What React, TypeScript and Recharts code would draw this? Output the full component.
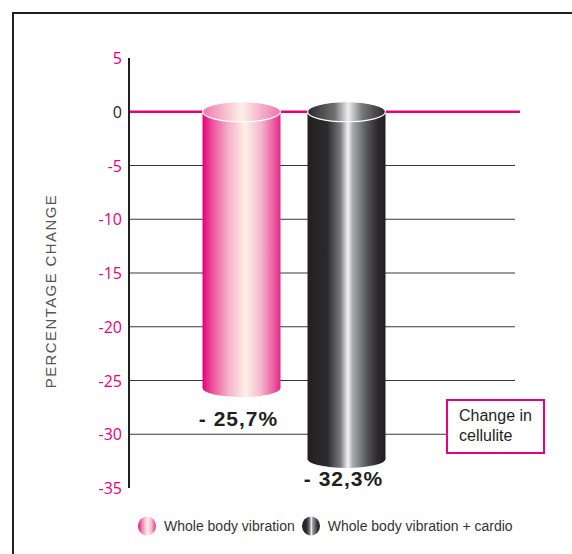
import React from 'react';
import { BarChart, Bar, XAxis, YAxis, CartesianGrid, Legend } from 'recharts';

// values
const categories = ['Whole body vibration', 'Whole body vibration + cardio'];
const changeValues = [-25.7, -32.3];
const yTicks = [5, 0, -5, -10, -15, -20, -25, -30, -35];
const axisTitle = 'PERCENTAGE CHANGE';
const boxLines = ['Change in', 'cellulite'];

const data = categories.map((name, i) => ({ name, value: changeValues[i] }));

const PINK = '#e6007e';
const INK = '#231f20';
const W = 572;
const H = 554;
const PLOT_BOTTOM = 488;
const LEGEND_H = 20;
// the legend's height is taken off the plot too, so leave it out of the bottom margin
const MARGIN = { top: 58, right: 57, bottom: H - PLOT_BOTTOM - LEGEND_H, left: 0 };

type Stop = [number, string];
const gradients: Record<string, Stop[]> = {
  pinkBody: [[0, '#e4007c'], [0.12, '#ec4f98'], [0.33, '#f5b0ca'], [0.55, '#fdf1e6'], [0.75, '#f6b6ce'], [0.92, '#ea5a9e'], [1, '#e2268a']],
  pinkTop: [[0, '#ef78ad'], [0.5, '#fdf0e8'], [1, '#ee74ab']],
  darkBody: [[0, '#231f20'], [0.25, '#2b2a2b'], [0.42, '#77787c'], [0.52, '#f5f5f5'], [0.58, '#a7a9ad'], [0.76, '#56575a'], [0.9, '#2b292a'], [1, '#231f20']],
  darkTop: [[0, '#2a2829'], [0.35, '#6f7074'], [0.52, '#eeeeee'], [0.7, '#77787b'], [1, '#2a2829']],
};
const seriesKeys = ['pink', 'dark'];

const formatChange = (v: number) => `- ${Math.abs(v).toFixed(1).replace('.', ',')}%`;

const Cylinder = (props: any) => {
  const { x, y, width, height, index, payload } = props;
  const top = Math.min(y, y + height);
  const bottom = Math.max(y, y + height);
  const rx = width / 2;
  const ry = 10;
  const cx = x + rx;
  const key = seriesKeys[index];
  // keep the value label above the x axis line
  const labelY = Math.min(bottom + 30, PLOT_BOTTOM - 10);
  return (
    <g>
      <rect x={x} y={top} width={width} height={bottom - top} fill={`url(#${key}Body)`} />
      <ellipse cx={cx} cy={bottom} rx={rx} ry={ry - 1} fill={`url(#${key}Body)`} />
      <ellipse cx={cx} cy={top} rx={rx} ry={ry} fill={`url(#${key}Top)`} stroke="#fff" strokeWidth={1.2} />
      <text
        x={cx - 3}
        y={labelY}
        textAnchor="middle"
        dominantBaseline="central"
        fill={INK}
        fontSize={21}
        fontWeight="bold"
        letterSpacing={1}
        fontFamily="'Liberation Sans', Arial, sans-serif"
      >
        {formatChange(payload.value)}
      </text>
    </g>
  );
};

const YTick = (props: any) => {
  const { x, y, payload } = props;
  return (
    <text
      x={x}
      y={y}
      textAnchor="end"
      dominantBaseline="central"
      fill={payload.value === 0 ? INK : PINK}
      fontSize={16}
      fontFamily="'Open Sans', sans-serif"
    >
      {payload.value}
    </text>
  );
};

const gridLine = (p: any) => {
  const v = yTicks[p.index];
  if (v === undefined || v === yTicks[0] || v === yTicks[yTicks.length - 1]) return <g key={p.key} />;
  if (v === 0) {
    return <line key={p.key} x1={p.x1} y1={p.y1} x2={p.x2 + 5} y2={p.y2} stroke={PINK} strokeWidth={2.5} />;
  }
  return <line key={p.key} x1={p.x1} y1={p.y1} x2={p.x2} y2={p.y2} stroke="#3a3738" strokeWidth={1.2} />;
};

const LegendIcon = ({ k }: { k: string }) => (
  <svg width={20} height={20} style={{ display: 'block' }}>
    <ellipse cx={10} cy={10} rx={9} ry={9.5} fill={`url(#${k}Body)`} />
  </svg>
);

const renderLegend = () => (
  <div
    style={{
      display: 'flex',
      alignItems: 'center',
      paddingLeft: 137,
      height: LEGEND_H,
      fontFamily: "'Liberation Sans', Arial, sans-serif",
      fontSize: 14,
      color: '#333',
    }}
  >
    {categories.map((c, i) => (
      <React.Fragment key={c}>
        <LegendIcon k={seriesKeys[i]} />
        <span style={{ marginLeft: 7, marginRight: 6 }}>{c}</span>
      </React.Fragment>
    ))}
  </div>
);

const AxisTitle = () => (
  <text
    x={50}
    y={291}
    transform="rotate(-90 50 291)"
    textAnchor="middle"
    dominantBaseline="central"
    fill="#555"
    fontSize={15}
    letterSpacing={1.4}
    fontFamily="'Liberation Sans', Arial, sans-serif"
  >
    {axisTitle}
  </text>
);

export default function App() {
  return (
    <div style={{ position: 'absolute', left: 0, top: 0, width: W, height: H, background: '#fff' }}>
      <div
        style={{
          position: 'absolute',
          left: 12,
          top: 12,
          width: W - 12,
          height: H - 12,
          borderTop: `2px solid ${INK}`,
          borderLeft: `2px solid ${INK}`,
        }}
      />
      <BarChart width={W} height={H} data={data} margin={MARGIN}>
        <defs>
          {Object.entries(gradients).map(([id, stops]) => (
            <linearGradient key={id} id={id} x1="0" y1="0" x2="1" y2="0">
              {stops.map(([o, c]) => (
                <stop key={o} offset={o} stopColor={c} />
              ))}
            </linearGradient>
          ))}
        </defs>
        <CartesianGrid vertical={false} syncWithTicks horizontal={gridLine} />
        <XAxis
          dataKey="name"
          height={0}
          tick={false}
          tickLine={false}
          axisLine={{ stroke: INK, strokeWidth: 2 }}
          padding={{ left: 59.5, right: 116.5 }}
        />
        <YAxis
          width={129}
          domain={[-35, 5]}
          ticks={yTicks}
          interval={0}
          tickLine={false}
          tickMargin={1}
          tick={<YTick />}
          axisLine={{ stroke: INK, strokeWidth: 2 }}
          label={{ content: () => <AxisTitle /> }}
        />
        <Legend content={renderLegend} wrapperStyle={{ left: 0, top: 516, width: W, height: LEGEND_H }} />
        <Bar dataKey="value" barSize={78} shape={<Cylinder />} isAnimationActive={false} />
      </BarChart>
      <div
        style={{
          position: 'absolute',
          left: 446,
          top: 399,
          width: 99,
          height: 55,
          boxSizing: 'border-box',
          border: `2px solid ${PINK}`,
          background: '#fff',
          padding: '5px 0 0 11px',
          fontFamily: "'Liberation Sans', Arial, sans-serif",
          fontSize: 16,
          lineHeight: '20px',
          color: INK,
        }}
      >
        {boxLines.map((l) => (
          <div key={l}>{l}</div>
        ))}
      </div>
    </div>
  );
}
